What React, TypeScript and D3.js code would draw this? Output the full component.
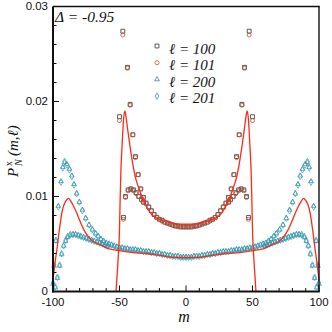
import React from 'react';
import * as d3 from 'd3';

// l = 100 / 101: main chain (upper points near the edges)
const mA = [-50, -47.5, -44, -42, -40, -38, -36, -34, -32, -30, -28, -26, -24, -22, -20, -18, -16, -14, -12, -10, -8, -6, -4, -2, 0,
  2, 4, 6, 8, 10, 12, 14, 16, 18, 20, 22, 24, 26, 28, 30, 32, 34, 36, 38, 40, 42, 44, 47.5, 50];
const p100 = [0.0184, 0.0274, 0.0236, 0.0197, 0.0165, 0.0142, 0.0123, 0.0108, 0.0099, 0.0093, 0.0089, 0.0085, 0.0081, 0.0078, 0.0076, 0.0075, 0.0073, 0.0072, 0.0071, 0.0070, 0.0069, 0.0069, 0.0068, 0.0068, 0.0068,
  0.0068, 0.0068, 0.0069, 0.0069, 0.0070, 0.0071, 0.0072, 0.0073, 0.0075, 0.0076, 0.0078, 0.0081, 0.0085, 0.0089, 0.0093, 0.0099, 0.0108, 0.0123, 0.0142, 0.0165, 0.0197, 0.0236, 0.0274, 0.0184];
const p101 = [0.0180, 0.0270, 0.0235, 0.0196, 0.0165, 0.0141, 0.0123, 0.0108, 0.0099, 0.0093, 0.0089, 0.0085, 0.0081, 0.0078, 0.0076, 0.0074, 0.0073, 0.0072, 0.0071, 0.0070, 0.0069, 0.0068, 0.0068, 0.0068, 0.0068,
  0.0068, 0.0068, 0.0068, 0.0069, 0.0070, 0.0071, 0.0072, 0.0073, 0.0074, 0.0076, 0.0078, 0.0081, 0.0085, 0.0089, 0.0093, 0.0099, 0.0108, 0.0123, 0.0141, 0.0165, 0.0196, 0.0235, 0.0270, 0.0180];
// l = 100 / 101: lower points that split off near the edges
const mA2 = [-47, -45.5, -43.5, -41.5, -39.5, -37.5, -35.5, -33.5, -32, 32, 33.5, 35.5, 37.5, 39.5, 41.5, 43.5, 45.5, 47];
const p100b = [0.0078, 0.0100, 0.0107, 0.0108, 0.0107, 0.0104, 0.0100, 0.0097, 0.0094, 0.0094, 0.0097, 0.0100, 0.0104, 0.0107, 0.0108, 0.0107, 0.0100, 0.0078];
const p101b = [0.0076, 0.0099, 0.0106, 0.0108, 0.0106, 0.0103, 0.0100, 0.0096, 0.0094, 0.0094, 0.0096, 0.0100, 0.0103, 0.0106, 0.0108, 0.0106, 0.0099, 0.0076];

// l = 200 / 201: main chain
const mB = [-100, -99.2, -97.8, -96, -94, -92.6, -91.3, -89.5, -87.6, -85.9, -84.2, -82.2, -80.2, -77.9, -75.4, -72.9, -70.4,
  -68, -66, -64, -62, -60, -58, -56, -54, -52, -50, -48, -46, -44, -42, -40, -38, -36, -34, -32, -30, -28, -26, -24, -22, -20, -18, -16, -14, -12, -10, -8, -6, -4, -2, 0,
  2, 4, 6, 8, 10, 12, 14, 16, 18, 20, 22, 24, 26, 28, 30, 32, 34, 36, 38, 40, 42, 44, 46, 48, 50, 52, 54, 56, 58, 60, 62, 64, 66, 68,
  70.4, 72.9, 75.4, 77.9, 80.2, 82.2, 84.2, 85.9, 87.6, 89.5, 91.3, 92.6, 94, 96, 97.8, 99.2, 100];
const p200 = [0.0008, 0.0027, 0.0053, 0.0090, 0.0116, 0.0131, 0.0136, 0.0134, 0.0129, 0.0122, 0.0113, 0.0103, 0.0094, 0.0086, 0.0077, 0.0070, 0.0065,
  0.0061, 0.0058, 0.0055, 0.0053, 0.0051, 0.0050, 0.0049, 0.0048, 0.0047, 0.0046, 0.0046, 0.0045, 0.0045, 0.0044, 0.0044, 0.0044, 0.0043, 0.0043, 0.0042, 0.0042, 0.0042, 0.0041, 0.0041, 0.0040, 0.0040, 0.0039, 0.0039, 0.0038, 0.0038, 0.0037, 0.0037, 0.0037, 0.0036, 0.0036, 0.0036,
  0.0036, 0.0036, 0.0037, 0.0037, 0.0037, 0.0038, 0.0038, 0.0039, 0.0039, 0.0040, 0.0040, 0.0041, 0.0041, 0.0042, 0.0042, 0.0042, 0.0043, 0.0043, 0.0044, 0.0044, 0.0044, 0.0045, 0.0045, 0.0046, 0.0046, 0.0047, 0.0048, 0.0049, 0.0050, 0.0051, 0.0053, 0.0055, 0.0058, 0.0061,
  0.0065, 0.0070, 0.0077, 0.0086, 0.0094, 0.0103, 0.0113, 0.0122, 0.0129, 0.0134, 0.0136, 0.0131, 0.0116, 0.0090, 0.0053, 0.0027, 0.0008];
const p201 = [0.0009, 0.0028, 0.0054, 0.0089, 0.0115, 0.0130, 0.0137, 0.0133, 0.0128, 0.0121, 0.0112, 0.0103, 0.0094, 0.0085, 0.0077, 0.0070, 0.0065,
  0.0061, 0.0058, 0.0055, 0.0053, 0.0051, 0.0050, 0.0049, 0.0048, 0.0047, 0.0046, 0.0046, 0.0045, 0.0045, 0.0044, 0.0044, 0.0044, 0.0043, 0.0043, 0.0042, 0.0042, 0.0042, 0.0041, 0.0041, 0.0040, 0.0040, 0.0039, 0.0039, 0.0038, 0.0038, 0.0037, 0.0037, 0.0037, 0.0036, 0.0036, 0.0036,
  0.0036, 0.0036, 0.0037, 0.0037, 0.0037, 0.0038, 0.0038, 0.0039, 0.0039, 0.0040, 0.0040, 0.0041, 0.0041, 0.0042, 0.0042, 0.0042, 0.0043, 0.0043, 0.0044, 0.0044, 0.0044, 0.0045, 0.0045, 0.0046, 0.0046, 0.0047, 0.0048, 0.0049, 0.0050, 0.0051, 0.0053, 0.0055, 0.0058, 0.0061,
  0.0065, 0.0070, 0.0077, 0.0085, 0.0094, 0.0103, 0.0112, 0.0121, 0.0128, 0.0133, 0.0137, 0.0130, 0.0115, 0.0089, 0.0054, 0.0028, 0.0009];
// l = 200 / 201: lower points near the edges
const mB2 = [-98.3, -96.7, -95, -93.5, -92, -90.5, -89, -87, -85, -83, -81, -79, -77, -75, -73, -71, -69, -67, -65, -63, -61, -59,
  59, 61, 63, 65, 67, 69, 71, 73, 75, 77, 79, 81, 83, 85, 87, 89, 90.5, 92, 93.5, 95, 96.7, 98.3];
const p200b = [0.0004, 0.0014, 0.0027, 0.0039, 0.0048, 0.0053, 0.0057, 0.0059, 0.0060, 0.0060, 0.0059, 0.0058, 0.0057, 0.0056, 0.0055, 0.0054, 0.0053, 0.0052, 0.0051, 0.0050, 0.0049, 0.0048,
  0.0048, 0.0049, 0.0050, 0.0051, 0.0052, 0.0053, 0.0054, 0.0055, 0.0056, 0.0057, 0.0058, 0.0059, 0.0060, 0.0060, 0.0059, 0.0057, 0.0053, 0.0048, 0.0039, 0.0027, 0.0014, 0.0004];
const p201b = [0.0005, 0.0015, 0.0028, 0.0040, 0.0048, 0.0054, 0.0058, 0.0060, 0.0060, 0.0060, 0.0059, 0.0058, 0.0057, 0.0056, 0.0055, 0.0054, 0.0053, 0.0052, 0.0051, 0.0050, 0.0049, 0.0048,
  0.0048, 0.0049, 0.0050, 0.0051, 0.0052, 0.0053, 0.0054, 0.0055, 0.0056, 0.0057, 0.0058, 0.0059, 0.0060, 0.0060, 0.0060, 0.0058, 0.0054, 0.0048, 0.0040, 0.0028, 0.0015, 0.0005];

// red curves
const mLineA = [-52.6, -52, -51, -50, -49.5, -49, -48, -47, -46, -45, -44, -42, -40, -38, -36, -34, -32, -30, -28, -25, -20, -15, -10, -5, 0,
  5, 10, 15, 20, 25, 28, 30, 32, 34, 36, 38, 40, 42, 44, 45, 46, 47, 48, 49, 49.5, 50, 51, 52, 52.6];
const pLineA = [0, 0.0013, 0.0035, 0.0065, 0.0098, 0.0125, 0.0155, 0.0180, 0.0190, 0.0183, 0.0172, 0.0152, 0.0134, 0.0120, 0.0111, 0.0103, 0.0096, 0.0090, 0.0085, 0.0080, 0.0076, 0.0074, 0.0072, 0.0071, 0.0071,
  0.0071, 0.0072, 0.0074, 0.0076, 0.0080, 0.0085, 0.0090, 0.0096, 0.0103, 0.0111, 0.0120, 0.0134, 0.0152, 0.0172, 0.0183, 0.0190, 0.0180, 0.0155, 0.0125, 0.0098, 0.0065, 0.0035, 0.0013, 0];
const mLineB = [-100, -99.2, -98.2, -97, -95.5, -93, -91.5, -90, -88.4, -87, -85, -82, -80, -76, -73, -70, -64, -60, -55, -50, -40, -30, -20, -10, 0,
  10, 20, 30, 40, 50, 55, 60, 64, 70, 73, 76, 80, 82, 85, 87, 88.4, 90, 91.5, 93, 95.5, 97, 98.2, 99.2, 100];
const pLineB = [0.0012, 0.0022, 0.0033, 0.0045, 0.0062, 0.0085, 0.0092, 0.0096, 0.0098, 0.0096, 0.0091, 0.0082, 0.0075, 0.0063, 0.0057, 0.0053, 0.0049, 0.0046, 0.0044, 0.0043, 0.0041, 0.0040, 0.0038, 0.0036, 0.0036,
  0.0036, 0.0038, 0.0040, 0.0041, 0.0043, 0.0044, 0.0046, 0.0049, 0.0053, 0.0057, 0.0063, 0.0075, 0.0082, 0.0091, 0.0096, 0.0098, 0.0096, 0.0092, 0.0085, 0.0062, 0.0045, 0.0033, 0.0022, 0.0012];

const xTicks = [-100, -50, 0, 50, 100];
const yTicks = [0, 0.01, 0.02, 0.03];
const yTickLabels = ['0', '0.01', '0.02', '0.03'];
const legendLabels = ['\u2113 = 100', '\u2113 = 101', '\u2113 = 200', '\u2113 = 201'];

const x = d3.scaleLinear().domain([-100, 100]).range([53, 319]);
const y = d3.scaleLinear().domain([0, 0.03]).range([291.5, 6.5]);

const sq = d3.symbol().type(d3.symbolSquare).size(15)();
const ci = d3.symbol().type(d3.symbolCircle).size(13)();
const tri = d3.symbol().type(d3.symbolTriangle).size(10)();
const dia = d3.symbol().type(d3.symbolDiamond).size(12)();

const series = [
  { ms: [mA, mA2], ps: [p100, p100b], shape: sq, color: '#333333', sw: 0.8 },
  { ms: [mA, mA2], ps: [p101, p101b], shape: ci, color: '#c0503a', sw: 0.8 },
  { ms: [mB, mB2], ps: [p200, p200b], shape: tri, color: '#3a86b8', sw: 0.7 },
  { ms: [mB, mB2], ps: [p201, p201b], shape: dia, color: '#2a9fa8', sw: 0.7 },
];

const line = d3.line<number>().curve(d3.curveMonotoneX);

const serif = '"Liberation Serif", "Times New Roman", serif';
const sans = '"Liberation Sans", Arial, sans-serif';

export default function App() {
  const pathA = line.x((_, i) => x(mLineA[i])).y((d) => y(d))(pLineA) || '';
  const pathB = line.x((_, i) => x(mLineB[i])).y((d) => y(d))(pLineB) || '';
  const minorX = d3.range(-100, 101, 10);
  const minorY = d3.range(0, 16).map((i) => i * 0.002);

  return (
    <svg width={332} height={332} style={{ position: 'absolute', left: 0, top: 0, background: '#fff' }}>
      {/* markers */}
      {series.map((s, si) => (
        <g key={si} fill="none" stroke={s.color} strokeWidth={s.sw}>
          {s.ms.map((ms, k) =>
            ms.map((m, i) => (
              <path key={k + '-' + i} d={s.shape} transform={`translate(${x(m)},${y(s.ps[k][i])})`} />
            ))
          )}
        </g>
      ))}
      {/* curves */}
      <path d={pathA} fill="none" stroke="#ff2a14" strokeWidth={1.3} />
      <path d={pathB} fill="none" stroke="#ff2a14" strokeWidth={1.3} />

      {/* frame */}
      <line x1={53} x2={53} y1={6.5} y2={292.5} stroke="#111" strokeWidth={2} />
      <line x1={52} x2={319.7} y1={291.5} y2={291.5} stroke="#111" strokeWidth={2} />
      <line x1={53} x2={319.7} y1={6.5} y2={6.5} stroke="#111" strokeWidth={1.4} />
      <line x1={319} x2={319} y1={6} y2={292} stroke="#111" strokeWidth={1.4} />

      {/* ticks */}
      {minorX.map((t) => (
        <line key={'mx' + t} x1={x(t)} x2={x(t)} y1={291.5} y2={291.5 - (t % 50 === 0 ? 6 : 3.5)} stroke="#111" strokeWidth={1} />
      ))}
      {minorY.map((t, i) => (
        <line key={'my' + i} x1={53} x2={53 + (i % 5 === 0 ? 6 : 3.5)} y1={y(t)} y2={y(t)} stroke="#111" strokeWidth={1} />
      ))}

      {/* tick labels */}
      {xTicks.map((t) => (
        <text key={'xl' + t} transform={`translate(${x(t)},306) scale(1.15,1)`} textAnchor="middle" fontFamily={sans} fontSize={10} fill="#111">
          {t}
        </text>
      ))}
      {yTicks.map((t, i) => (
        <text key={'yl' + i} transform={`translate(48,${y(t) + 3.6}) scale(1.15,1)`} textAnchor="end" fontFamily={sans} fontSize={10} fill="#111">
          {yTickLabels[i]}
        </text>
      ))}

      {/* axis titles */}
      <text x={184} y={322} textAnchor="middle" fontFamily={serif} fontStyle="italic" fontSize={16} fill="#111">m</text>
      <g transform="translate(18,150) rotate(-90)" fontFamily={serif} fill="#111">
        <text x={-27} y={0} fontStyle="italic" fontSize={15}>P</text>
        <text x={-16} y={-6} fontSize={10}>x</text>
        <text x={-16} y={4} fontStyle="italic" fontSize={10}>N</text>
        <text x={-6} y={0} fontStyle="italic" fontSize={15}>{'(m,\u2113)'}</text>
      </g>

      {/* annotation */}
      <text x={55} y={22} fontFamily={serif} fontStyle="italic" fontSize={15.5} fill="#111">{'\u0394 = -0.95'}</text>

      {/* legend */}
      {legendLabels.map((lab, i) => (
        <g key={'lg' + i}>
          <path d={series[i].shape} transform={`translate(157,${46 + i * 16.7})`} fill="none" stroke={series[i].color} strokeWidth={0.8} />
          <text x={169} y={54 + i * 16.4} fontFamily={serif} fontStyle="italic" fontSize={15} fill="#111">{lab}</text>
        </g>
      ))}
    </svg>
  );
}
